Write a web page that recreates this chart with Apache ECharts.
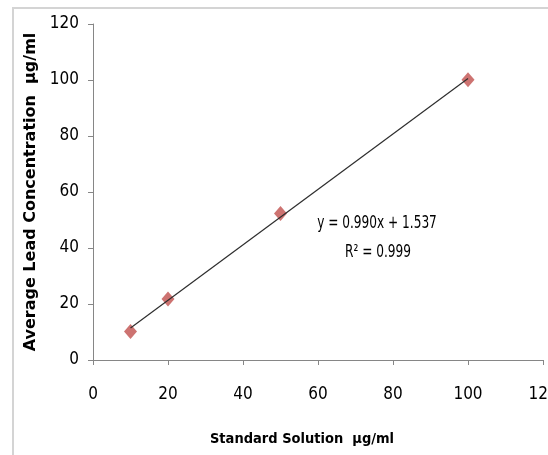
<!DOCTYPE html>
<html>
<head>
<meta charset="utf-8">
<script src="https://cdn.jsdelivr.net/npm/echarts@6/dist/echarts.min.js"></script>
<style>
html,body{margin:0;padding:0;background:#fff;overflow:hidden}
#wrap{position:relative;width:548px;height:455px;overflow:hidden}
#frame{position:absolute;left:12px;top:7px;width:600px;height:500px;border-top:2px solid #d4d4d4;border-left:2px solid #d4d4d4;box-sizing:border-box}
#c{position:absolute;left:0;top:0;width:548px;height:455px}
</style>
</head>
<body>
<div id="wrap"><div id="frame"></div><div id="c"></div></div>
<script>
const standardX = [10, 20, 50, 100];
const leadY = [10.2, 21.8, 52.3, 100.1];
const trendX = [10, 100];
const trendY = [11.4, 100.5];
const xTicks = [0, 20, 40, 60, 80, 100, 120];
const yTicks = [0, 20, 40, 60, 80, 100, 120];
const equationText = 'y = 0.990x + 1.537';
const r2Text = 'R² = 0.999';
const xTitle = 'Standard Solution  µg/ml';
const yTitle = 'Average Lead Concentration  µg/ml';

const narrow = '"Liberation Sans Narrow", "DejaVu Sans Condensed", sans-serif';
const chart = echarts.init(document.getElementById('c'), null, {renderer: 'canvas'});
chart.setOption({
  animation: false,
  backgroundColor: 'transparent',
  grid: {left: 93, top: 24, right: 5, bottom: 95, containLabel: false, outerBoundsMode: 'none'},
  graphic: [
    {type: 'text', x: 377, y: 223, scaleY: 1.3, style: {x: 0, y: 0, align: 'center', verticalAlign: 'middle', text: equationText, font: '13.5px ' + narrow, fill: '#000'}},
    {type: 'text', x: 378, y: 252, scaleY: 1.3, style: {x: 0, y: 0, align: 'center', verticalAlign: 'middle', text: r2Text, font: '13.5px ' + narrow, fill: '#000'}}
  ],
  xAxis: {
    type: 'value', min: xTicks[0], max: xTicks[xTicks.length - 1], interval: 20,
    name: xTitle, nameLocation: 'middle', nameGap: 72,
    nameTextStyle: {fontFamily: narrow, fontWeight: 'bold', fontSize: 14.5, color: '#000', padding: [0, 32, 0, 0]},
    axisLine: {show: true, lineStyle: {color: '#868686', width: 1}},
    axisTick: {show: true, inside: false, length: 5, lineStyle: {color: '#868686'}},
    axisLabel: {margin: 26, fontFamily: narrow, fontSize: 17, color: '#000'},
    splitLine: {show: false}
  },
  yAxis: {
    type: 'value', min: yTicks[0], max: yTicks[yTicks.length - 1], interval: 20,
    name: yTitle, nameLocation: 'middle', nameGap: 52, nameRotate: 90,
    nameTextStyle: {fontFamily: '"DejaVu Sans", sans-serif', fontWeight: 'bold', fontSize: 16, color: '#000'},
    axisLine: {show: true, lineStyle: {color: '#868686', width: 1}},
    axisTick: {show: true, inside: false, length: 5, lineStyle: {color: '#868686'}},
    axisLabel: {margin: 14, fontFamily: narrow, fontSize: 17, color: '#000'},
    splitLine: {show: false}
  },
  series: [
    {
      type: 'line', data: trendX.map((x, i) => [x, trendY[i]]),
      symbol: 'none', lineStyle: {color: '#2e2e2e', width: 1.2}, z: 3
    },
    {
      type: 'scatter', data: standardX.map((x, i) => [x, leadY[i]]),
      symbol: 'diamond', symbolSize: [13, 15],
      itemStyle: {color: '#c0504d'}, z: 2
    }
  ]
});
</script>
</body>
</html>
